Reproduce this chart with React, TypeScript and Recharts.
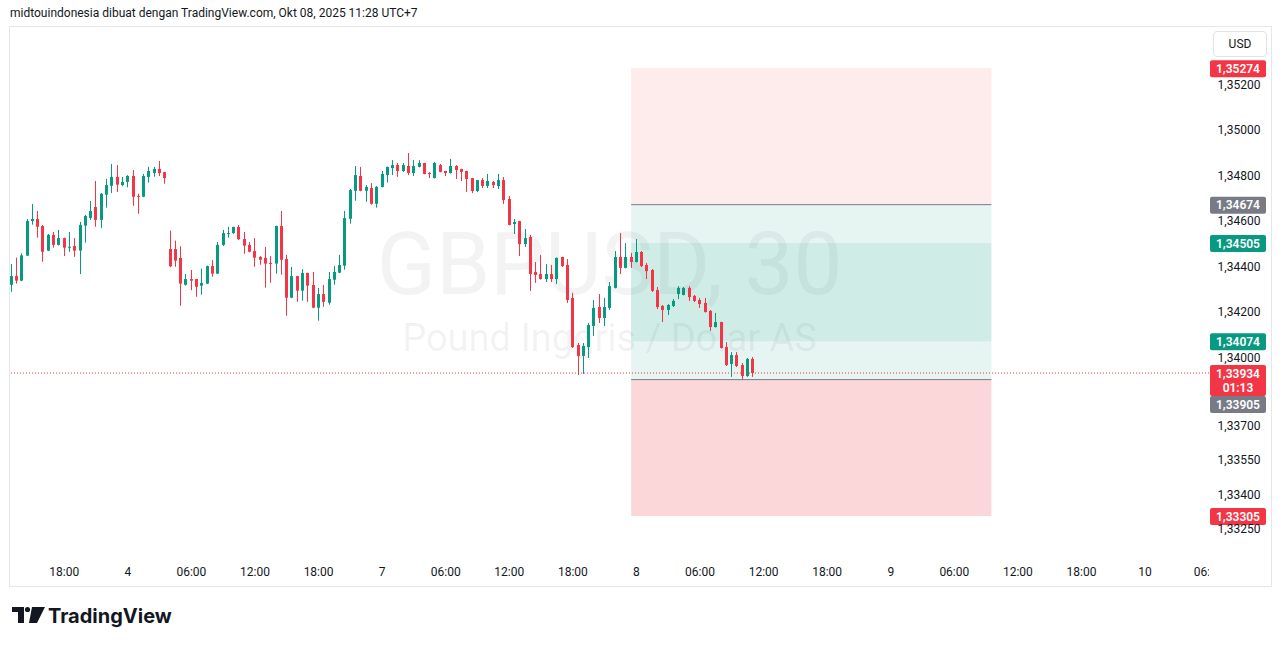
import React from 'react';
import { ComposedChart, Bar, XAxis, YAxis, ReferenceArea, ReferenceLine } from 'recharts';

const UP = '#089981';
const DOWN = '#f23645';
const GREY = '#787b86';
const TEXT = '#131722';

// GBPUSD 30m candles, Oct 3 13:00 -> Oct 8 11:00 (UTC+7)
const opens = [
  1.34322, 1.34360, 1.34340, 1.34450, 1.34602, 1.34611, 1.34580, 1.34472, 1.34541, 1.34497,
  1.34527, 1.34485, 1.34492, 1.34472, 1.34582, 1.34615, 1.34664, 1.34607, 1.34718, 1.34757,
  1.34796, 1.34760, 1.34774, 1.34800, 1.34713, 1.34709, 1.34796, 1.34813, 1.34831, 1.34817,
  1.34479, 1.34479, 1.34440, 1.34322, 1.34347, 1.34347, 1.34318, 1.34327, 1.34404, 1.34371,
  1.34497, 1.34545, 1.34549, 1.34576, 1.34523, 1.34497, 1.34470, 1.34444, 1.34440, 1.34418,
  1.34415, 1.34580, 1.34435, 1.34265, 1.34360, 1.34296, 1.34374, 1.34321, 1.34221, 1.34281,
  1.34243, 1.34344, 1.34375, 1.34406, 1.34612, 1.34735, 1.34800, 1.34735, 1.34747, 1.34678,
  1.34752, 1.34804, 1.34835, 1.34848, 1.34822, 1.34844, 1.34813, 1.34840, 1.34857, 1.34813,
  1.34791, 1.34848, 1.34822, 1.34813, 1.34844, 1.34831, 1.34822, 1.34791, 1.34734, 1.34782,
  1.34756, 1.34774, 1.34756, 1.34782, 1.34699, 1.34589, 1.34602, 1.34501, 1.34532, 1.34378,
  1.34369, 1.34347, 1.34369, 1.34347, 1.34444, 1.34409, 1.34264, 1.34057, 1.34009, 1.34048,
  1.34141, 1.34224, 1.34176, 1.34220, 1.34308, 1.34444, 1.34396, 1.34444, 1.34422, 1.34466,
  1.34409, 1.34387, 1.34299, 1.34229, 1.34211, 1.34229, 1.34281, 1.34277, 1.34308, 1.34273,
  1.34255, 1.34242, 1.34207, 1.34136, 1.34158, 1.34048, 1.33974, 1.34013, 1.33969, 1.33921,
  1.33996,
];
const highs = [
  1.34413, 1.34441, 1.34460, 1.34611, 1.34677, 1.34646, 1.34585, 1.34545, 1.34554, 1.34563,
  1.34529, 1.34554, 1.34527, 1.34598, 1.34629, 1.34690, 1.34778, 1.34725, 1.34787, 1.34853,
  1.34848, 1.34796, 1.34804, 1.34826, 1.34722, 1.34809, 1.34840, 1.34840, 1.34866, 1.34818,
  1.34560, 1.34516, 1.34491, 1.34369, 1.34387, 1.34348, 1.34393, 1.34406, 1.34431, 1.34510,
  1.34563, 1.34576, 1.34577, 1.34585, 1.34554, 1.34510, 1.34527, 1.34448, 1.34488, 1.34448,
  1.34582, 1.34646, 1.34453, 1.34400, 1.34361, 1.34391, 1.34375, 1.34378, 1.34308, 1.34321,
  1.34378, 1.34404, 1.34453, 1.34646, 1.34743, 1.34844, 1.34840, 1.34760, 1.34769, 1.34756,
  1.34822, 1.34841, 1.34870, 1.34857, 1.34857, 1.34901, 1.34870, 1.34870, 1.34858, 1.34818,
  1.34862, 1.34853, 1.34823, 1.34875, 1.34848, 1.34832, 1.34823, 1.34792, 1.34783, 1.34791,
  1.34809, 1.34778, 1.34809, 1.34796, 1.34712, 1.34611, 1.34603, 1.34567, 1.34541, 1.34422,
  1.34453, 1.34413, 1.34409, 1.34442, 1.34445, 1.34435, 1.34286, 1.34066, 1.34066, 1.34154,
  1.34255, 1.34281, 1.34264, 1.34334, 1.34470, 1.34549, 1.34505, 1.34462, 1.34523, 1.34470,
  1.34418, 1.34391, 1.34312, 1.34233, 1.34237, 1.34259, 1.34316, 1.34312, 1.34316, 1.34277,
  1.34264, 1.34264, 1.34211, 1.34198, 1.34159, 1.34070, 1.34026, 1.34026, 1.33978, 1.34000,
  1.34004,
];
const lows = [
  1.34291, 1.34327, 1.34338, 1.34448, 1.34586, 1.34529, 1.34423, 1.34470, 1.34485, 1.34495,
  1.34448, 1.34467, 1.34445, 1.34369, 1.34507, 1.34607, 1.34577, 1.34571, 1.34661, 1.34725,
  1.34730, 1.34755, 1.34750, 1.34669, 1.34634, 1.34707, 1.34771, 1.34797, 1.34800, 1.34766,
  1.34399, 1.34401, 1.34230, 1.34318, 1.34298, 1.34269, 1.34278, 1.34325, 1.34357, 1.34369,
  1.34492, 1.34529, 1.34545, 1.34519, 1.34458, 1.34465, 1.34401, 1.34410, 1.34309, 1.34331,
  1.34371, 1.34366, 1.34186, 1.34263, 1.34247, 1.34252, 1.34247, 1.34219, 1.34164, 1.34225,
  1.34234, 1.34322, 1.34373, 1.34388, 1.34590, 1.34691, 1.34733, 1.34687, 1.34674, 1.34661,
  1.34750, 1.34771, 1.34804, 1.34796, 1.34818, 1.34804, 1.34800, 1.34838, 1.34807, 1.34791,
  1.34789, 1.34816, 1.34800, 1.34811, 1.34787, 1.34778, 1.34730, 1.34725, 1.34730, 1.34747,
  1.34747, 1.34747, 1.34743, 1.34677, 1.34583, 1.34545, 1.34448, 1.34488, 1.34295, 1.34330,
  1.34345, 1.34334, 1.34334, 1.34325, 1.34400, 1.34242, 1.34044, 1.33925, 1.33930, 1.34000,
  1.34097, 1.34154, 1.34141, 1.34211, 1.34306, 1.34369, 1.34394, 1.34396, 1.34420, 1.34400,
  1.34347, 1.34290, 1.34215, 1.34158, 1.34189, 1.34224, 1.34259, 1.34275, 1.34251, 1.34246,
  1.34220, 1.34200, 1.34119, 1.34134, 1.34042, 1.33965, 1.33917, 1.33960, 1.33903, 1.33917,
  1.33917,
];
const closes = [
  1.34360, 1.34340, 1.34451, 1.34602, 1.34611, 1.34577, 1.34467, 1.34541, 1.34497, 1.34527,
  1.34485, 1.34489, 1.34472, 1.34585, 1.34624, 1.34646, 1.34607, 1.34722, 1.34760, 1.34796,
  1.34762, 1.34774, 1.34800, 1.34709, 1.34709, 1.34800, 1.34822, 1.34831, 1.34813, 1.34791,
  1.34403, 1.34428, 1.34327, 1.34347, 1.34340, 1.34313, 1.34330, 1.34404, 1.34371, 1.34497,
  1.34549, 1.34549, 1.34576, 1.34522, 1.34494, 1.34467, 1.34441, 1.34432, 1.34415, 1.34415,
  1.34580, 1.34432, 1.34265, 1.34360, 1.34296, 1.34374, 1.34318, 1.34221, 1.34281, 1.34247,
  1.34347, 1.34378, 1.34409, 1.34615, 1.34738, 1.34804, 1.34735, 1.34752, 1.34678, 1.34752,
  1.34809, 1.34840, 1.34848, 1.34822, 1.34848, 1.34813, 1.34844, 1.34857, 1.34809, 1.34809,
  1.34857, 1.34818, 1.34813, 1.34844, 1.34826, 1.34818, 1.34787, 1.34734, 1.34782, 1.34756,
  1.34778, 1.34760, 1.34782, 1.34694, 1.34585, 1.34598, 1.34501, 1.34527, 1.34369, 1.34365,
  1.34347, 1.34369, 1.34347, 1.34440, 1.34404, 1.34255, 1.34048, 1.34009, 1.34053, 1.34145,
  1.34220, 1.34176, 1.34224, 1.34316, 1.34444, 1.34396, 1.34444, 1.34422, 1.34466, 1.34404,
  1.34382, 1.34295, 1.34224, 1.34211, 1.34233, 1.34251, 1.34308, 1.34308, 1.34268, 1.34251,
  1.34237, 1.34202, 1.34136, 1.34158, 1.34044, 1.33969, 1.34013, 1.33965, 1.33921, 1.33996,
  1.33934,
];

// time axis: bar index of each label (every 12 bars = 6h)
const timeTicks = [10, 22, 34, 46, 58, 70, 82, 94, 106, 118, 130, 142, 154, 166, 178, 190, 202, 214, 226];
const timeLabels = ['18:00', '4', '06:00', '12:00', '18:00', '7', '06:00', '12:00', '18:00', '8',
  '06:00', '12:00', '18:00', '9', '06:00', '12:00', '18:00', '10', '06:00'];

const priceTicks = [1.352, 1.35, 1.348, 1.346, 1.344, 1.342, 1.34, 1.337, 1.3355, 1.334, 1.3325];

// two position tools drawn on the chart
const shortStop = 1.35274, shortEntry = 1.34674, shortTarget = 1.34074;
const longStop = 1.33305, longEntry = 1.33905, longTarget = 1.34505;
const toolFrom = 117, toolTo = 185;
const lastPrice = 1.33934;
const countdown = '01:13';

const data = opens.map((o, i) => ({
  i, o, h: highs[i], l: lows[i], c: closes[i], range: [lows[i], highs[i]],
}));

const W = 1281, H = 646;
const M = { top: 27, left: 10, right: 10, bottom: 60 };
const Y_W = 62;
const X_H = 30;
const PLOT_RIGHT = W - M.right - Y_W;
const FONT = 'Roboto, "Liberation Sans", sans-serif';

const fmt = (v: number) => v.toFixed(5).replace('.', ',');

const Candle = (props: any) => {
  const { x, y, width, height, payload } = props;
  if (!payload || x == null || y == null) return null;
  const { o, h, l, c } = payload;
  const color = c >= o ? UP : DOWN;
  const top = Math.min(y, y + height);
  const span = Math.abs(height);
  const k = span / (h - l);
  const bTop = top + (h - Math.max(o, c)) * k;
  const bBot = top + (h - Math.min(o, c)) * k;
  const cx = Math.round(x + width / 2 - 0.5);
  return (
    <g>
      <rect x={cx} y={top} width={1} height={span} fill={color} />
      <rect x={cx - 1} y={bTop} width={3} height={Math.max(1, bBot - bTop)} fill={color} />
    </g>
  );
};

const PriceTick = ({ x, y, payload }: any) => (
  <text x={x + 30} y={y + 4} textAnchor="middle" fill={TEXT} fontSize={12} fontFamily={FONT}>
    {fmt(payload.value)}
  </text>
);

const TimeTick = ({ x, y, payload }: any) => {
  const label = timeLabels[timeTicks.indexOf(payload.value)];
  return (
    <g>
      <defs>
        <clipPath id={`tc-${payload.value}`}>
          <rect x={0} y={y} width={PLOT_RIGHT} height={X_H} />
        </clipPath>
      </defs>
      <text x={x} y={y + 20} textAnchor="middle" fill={TEXT} fontSize={12} fontFamily={FONT}
        clipPath={`url(#tc-${payload.value})`}>
        {label}
      </text>
    </g>
  );
};

const PriceTag = ({ viewBox, text, sub, bg, shift = 0 }: any) => {
  if (!viewBox) return null;
  const x = viewBox.x + viewBox.width + 1;
  const y = viewBox.y + shift;
  const h = sub ? 31 : 17;
  return (
    <g>
      <rect x={x} y={y - 8} width={56} height={h} rx={2} fill={bg} />
      <text x={x + 28} y={y + 4.5} textAnchor="middle" fill="#fff" fontSize={12} fontWeight={600} fontFamily={FONT}>
        {text}
      </text>
      {sub && (
        <text x={x + 28} y={y + 18.5} textAnchor="middle" fill="#fff" fontSize={12} fontWeight={600} fontFamily={FONT}>
          {sub}
        </text>
      )}
    </g>
  );
};

const tag = (price: number, bg: string, extra: any = {}) => (
  <ReferenceLine y={price} stroke="none" ifOverflow="visible"
    label={<PriceTag text={fmt(price)} bg={bg} {...extra} />} />
);

export default function App() {
  const plotCx = (M.left + PLOT_RIGHT) / 2;
  return (
    <div style={{ position: 'absolute', left: 0, top: 0, width: W, height: H, background: '#fff', overflow: 'hidden' }}>
      <div style={{ position: 'absolute', left: 10, top: 6, fontFamily: FONT, fontSize: 12, color: TEXT, whiteSpace: 'nowrap' }}>
        midtouindonesia dibuat dengan TradingView.com, Okt 08, 2025 11:28 UTC+7
      </div>
      <div style={{ position: 'absolute', left: 9, top: 26, width: 1261, height: 559, border: '1px solid #e6e7ea' }} />
      <svg width={W} height={H} style={{ position: 'absolute', left: 0, top: 0 }}>
        <text x={plotCx} y={294} textAnchor="middle" fontSize={87} fontFamily={FONT} fill="rgba(120,123,134,0.09)">GBPUSD, 30</text>
        <text x={plotCx} y={351} textAnchor="middle" fontSize={38} fontFamily={FONT} fill="rgba(120,123,134,0.09)">Pound Inggris / Dolar AS</text>
      </svg>
      <div style={{ position: 'absolute', left: 0, top: 0 }}>
        <ComposedChart width={W} height={H} data={data} margin={M}>
          <XAxis dataKey="i" type="number" domain={[-0.245, 226.07]} allowDataOverflow ticks={timeTicks}
            height={X_H} axisLine={false} tickLine={false} tickSize={0} tickMargin={0} tick={<TimeTick />} interval={0} />
          <YAxis yAxisId={0} orientation="right" type="number" domain={[1.331297, 1.354549]} allowDataOverflow
            ticks={priceTicks} width={Y_W} axisLine={false} tickLine={false} tickSize={0} tickMargin={0} tick={<PriceTick />} interval={0} />
          <ReferenceArea x1={toolFrom} x2={toolTo} y1={shortEntry} y2={shortStop} fill={DOWN} fillOpacity={0.1} />
          <ReferenceArea x1={toolFrom} x2={toolTo} y1={shortTarget} y2={shortEntry} fill={UP} fillOpacity={0.1} />
          <ReferenceArea x1={toolFrom} x2={toolTo} y1={longEntry} y2={longTarget} fill={UP} fillOpacity={0.1} />
          <ReferenceArea x1={toolFrom} x2={toolTo} y1={longStop} y2={longEntry} fill={DOWN} fillOpacity={0.2} />
          <ReferenceLine segment={[{ x: toolFrom, y: shortEntry }, { x: toolTo, y: shortEntry }]} stroke={GREY} />
          <ReferenceLine segment={[{ x: toolFrom, y: longEntry }, { x: toolTo, y: longEntry }]} stroke={GREY} />
          <ReferenceLine y={lastPrice} stroke={DOWN} strokeDasharray="1 2"
            label={<PriceTag text={fmt(lastPrice)} sub={countdown} bg={DOWN} />} />
          {tag(shortStop, DOWN)}
          {tag(shortEntry, GREY)}
          {tag(longTarget, UP)}
          {tag(shortTarget, UP)}
          {tag(longEntry, GREY, { shift: 24.5 })}
          {tag(longStop, DOWN)}
          <Bar dataKey="range" barSize={3} shape={<Candle />} isAnimationActive={false} />
        </ComposedChart>
      </div>
      <div style={{ position: 'absolute', left: 1213, top: 31, width: 52, height: 24, border: '1px solid #e0e3eb', borderRadius: 4,
        fontFamily: FONT, fontSize: 12, color: TEXT, display: 'flex', alignItems: 'center', justifyContent: 'center', background: '#fff' }}>
        USD
      </div>
      <svg width={200} height={40} style={{ position: 'absolute', left: 0, top: 595 }}>
        <path d="M12 12 H24 V28 H18 V17 H12 Z" fill={TEXT} />
        <circle cx={27.5} cy={14.5} r={2.6} fill={TEXT} />
        <path d="M32 12 H45 L37 28 H29 Z" fill={TEXT} />
        <text x={48} y={27.5} fontSize={20} fontWeight={700} fontFamily='Inter, "Noto Sans", sans-serif' fill={TEXT}>TradingView</text>
      </svg>
    </div>
  );
}
